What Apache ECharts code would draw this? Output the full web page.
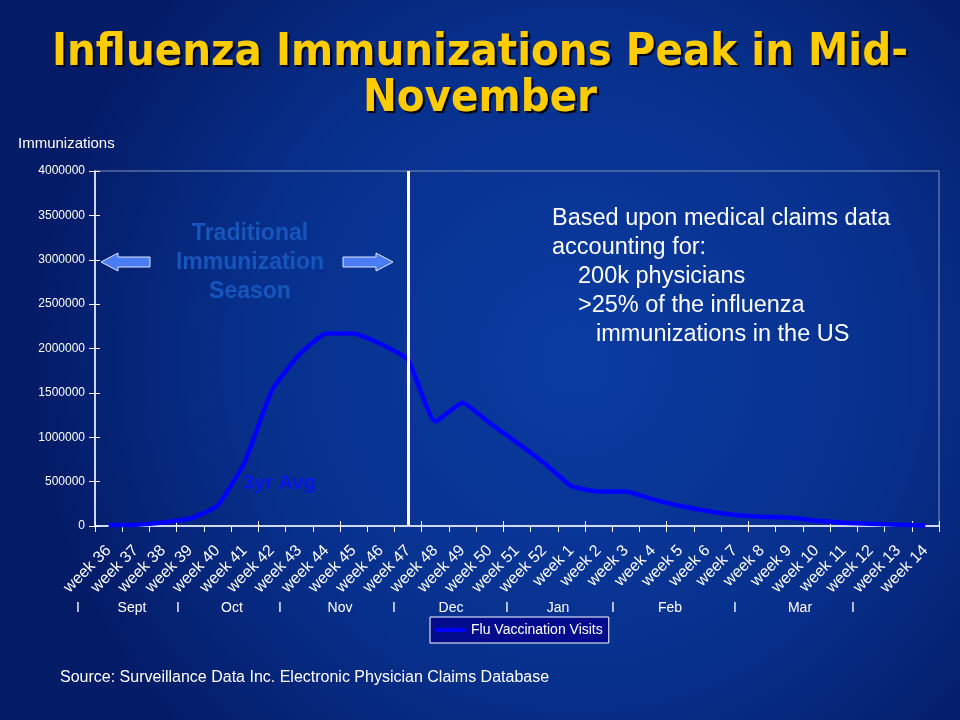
<!DOCTYPE html>
<html>
<head>
<meta charset="utf-8">
<script src="https://cdn.jsdelivr.net/npm/echarts@6/dist/echarts.min.js"></script>
<style>
html,body{margin:0;padding:0;background:#062070;}
#c{width:960px;height:720px;}
</style>
</head>
<body>
<div id="c"></div>
<script>
var categories = ['week 36','week 37','week 38','week 39','week 40','week 41','week 42','week 43','week 44','week 45','week 46','week 47','week 48','week 49','week 50','week 51','week 52','week 1','week 2','week 3','week 4','week 5','week 6','week 7','week 8','week 9','week 10','week 11','week 12','week 13','week 14'];
var fluVisits = [10000,15000,40000,85000,230000,720000,1530000,1930000,2170000,2170000,2050000,1870000,1175000,1390000,1160000,940000,710000,450000,390000,390000,300000,225000,170000,124000,105000,95000,60000,37000,25000,15000,5000];
var yTicks = [0,500000,1000000,1500000,2000000,2500000,3000000,3500000,4000000];
var monthLabels = ['I','Sept','I','Oct','I','Nov','I','Dec','I','Jan','I','Feb','I','Mar','I'];
var peakMarker = 'week 47';
var seasonText = ['Traditional','Immunization','Season'];
var noteText = ['Based upon medical claims data','accounting for:','200k physicians','>25% of the influenza','immunizations in the US'];

var chart = echarts.init(document.getElementById('c'));
var monthX = [78,132,178,232,280,340,394,451,507,558,613,670,735,800,853];
var noteIndent = [552,552,578,578,596];
var FONT = '"Liberation Sans", Arial, sans-serif';
var graphics = [];
// title
graphics.push({type:'text', left:'center', top:30, style:{text:'Influenza Immunizations Peak in Mid-\nNovember', fill:'#FFCC00', font:'bold 45px "DejaVu Sans Condensed", "DejaVu Sans", sans-serif', textAlign:'center', lineHeight:46, textShadowColor:'#000', textShadowOffsetX:2, textShadowOffsetY:2, textShadowBlur:1}});
graphics.push({type:'text', x:18, y:144, style:{text:'Immunizations', fill:'#fff', font:'15px ' + FONT, textVerticalAlign:'middle'}});
monthLabels.forEach(function(m,i){
  graphics.push({type:'text', x:monthX[i], y:608, style:{text:m, fill:'#fff', font:'14px ' + FONT, textAlign:'center', textVerticalAlign:'middle'}});
});
graphics.push({type:'text', x:250, y:263, style:{text:seasonText.join('\n'), fill:'#1656bc', font:'bold 23px ' + FONT, textAlign:'center', textVerticalAlign:'middle', lineHeight:29}});
noteText.forEach(function(t,i){
  graphics.push({type:'text', x:noteIndent[i], y:219 + i*28.8, style:{text:t, fill:'#fff', font:'23.5px ' + FONT, textVerticalAlign:'middle'}});
});
graphics.push({type:'text', x:243, y:483, style:{text:'3yr Avg', fill:'#0a14e8', font:'bold 20px ' + FONT, textVerticalAlign:'middle'}});
graphics.push({type:'text', x:60, y:678, style:{text:'Source: Surveillance Data Inc. Electronic Physician Claims Database', fill:'#fff', font:'16px ' + FONT, textVerticalAlign:'middle'}});
// arrows
graphics.push({type:'polygon', shape:{points:[[101,262],[118,253],[118,257],[150,257],[150,267],[118,267],[118,271]]}, style:{fill:'#4a7cf4', stroke:'#dfe8ff', lineWidth:1}});
graphics.push({type:'polygon', shape:{points:[[393,262],[376,253],[376,257],[343,257],[343,267],[376,267],[376,271]]}, style:{fill:'#4a7cf4', stroke:'#dfe8ff', lineWidth:1}});

var option = {
  backgroundColor: {
    type:'radial', x:0.6, y:0.5, r:0.75,
    colorStops:[{offset:0,color:'#0a3ca2'},{offset:0.6,color:'#07308c'},{offset:1,color:'#041c68'}]
  },
  animation:false,
  grid:{left:95, right:21, top:171, bottom:194, show:true, borderColor:'#8092b8', borderWidth:1, backgroundColor:'transparent'},
  legend:{
    data:['Flu Vaccination Visits'], left:430, top:617, orient:'horizontal',
    backgroundColor:'#020c8c', borderColor:'#ffffff', borderWidth:1, padding:[6,6,6,6],
    itemWidth:30, itemHeight:4, icon:'rect', itemGap:4,
    textStyle:{color:'#fff', fontSize:14, fontFamily:FONT}
  },
  xAxis:[{
    type:'category', data:categories, boundaryGap:true,
    axisLine:{lineStyle:{color:'#fff', width:1.5}},
    axisTick:{show:true, length:6, lineStyle:{color:'#fff'}},
    axisLabel:{interval:0, rotate:45, color:'#fff', fontSize:16, margin:22, fontFamily:FONT},
    splitLine:{show:false}
  },{
    type:'category', data:categories, boundaryGap:true, position:'bottom',
    axisLine:{show:false}, axisLabel:{show:false},
    axisTick:{show:true, inside:true, length:5, lineStyle:{color:'#fff'}}
  }],
  yAxis:[{
    type:'value', min:0, max:4000000, interval:500000,
    axisLine:{show:true, lineStyle:{color:'#fff', width:1.5}},
    axisTick:{show:true, length:6, lineStyle:{color:'#fff'}},
    axisLabel:{color:'#fff', fontSize:12, margin:10, fontFamily:FONT,
      formatter:function(v){ return yTicks.indexOf(v)>=0 ? String(v) : ''; }},
    splitLine:{show:false}
  },{
    type:'value', min:0, max:4000000, interval:500000, position:'left',
    axisLine:{show:false}, axisLabel:{show:false}, splitLine:{show:false},
    axisTick:{show:true, inside:true, length:5, lineStyle:{color:'#fff'}}
  }],
  series:[{
    name:'Flu Vaccination Visits', type:'line', data:fluVisits, showSymbol:false, symbol:'none',
    smooth:0.15,
    lineStyle:{color:'#0000ff', width:4.5, join:'round'},
    itemStyle:{color:'#0000ff'},
    markLine:{silent:true, symbol:['none','none'], label:{show:false},
      lineStyle:{color:'#ffffff', width:3, type:'solid'},
      data:[{xAxis:peakMarker}]}
  }],
  graphic:graphics
};
chart.setOption(option);
</script>
</body>
</html>
